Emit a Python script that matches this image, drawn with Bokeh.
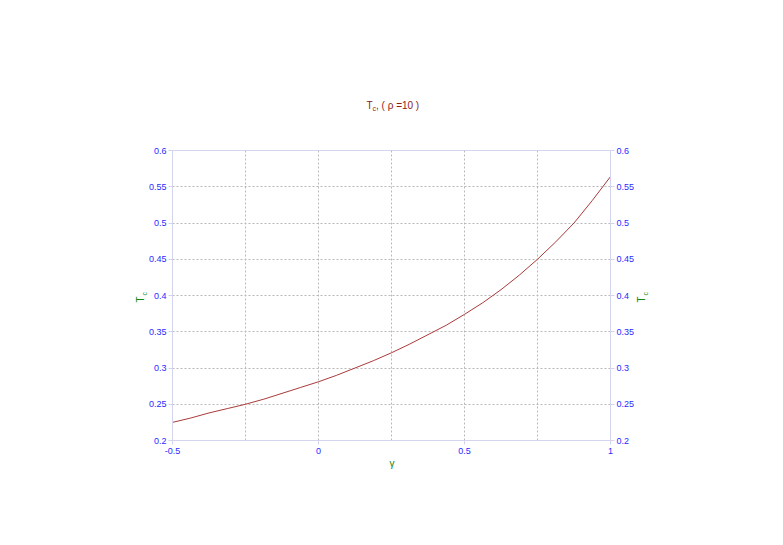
import math
from bokeh.plotting import figure
from bokeh.models import (Range1d, LinearAxis, FixedTicker, CustomJSTickFormatter,
                          Grid, Label)
from bokeh.embed import file_html
from bokeh.resources import INLINE

# ---- data ----
gamma = [-0.5, -0.4375, -0.375, -0.3125, -0.25, -0.1875, -0.125, -0.0625, 0.0,
         0.0625, 0.125, 0.1875, 0.25, 0.3125, 0.375, 0.4375, 0.5,
         0.5625, 0.625, 0.6875, 0.75, 0.8125, 0.875, 0.9375, 1.0]
tc = [0.225, 0.231, 0.238, 0.244, 0.250, 0.257, 0.265, 0.273, 0.281,
      0.290, 0.300, 0.310, 0.321, 0.333, 0.346, 0.359, 0.374,
      0.390, 0.408, 0.428, 0.450, 0.474, 0.500, 0.531, 0.564]

x_tick_labels = [-0.5, 0, 0.5, 1]
x_grid = [-0.25, 0, 0.25, 0.5, 0.75]
y_ticks = [0.2, 0.25, 0.3, 0.35, 0.4, 0.45, 0.5, 0.55, 0.6]
y_grid = [0.25, 0.3, 0.35, 0.4, 0.45, 0.5, 0.55]

title_parts = ["T", "c", ", ( \u03c1 =10 )"]
x_label = "\u03b3"
y_label_parts = ["T", "c"]

FONT = "Liberation Sans"
TICK_COLOR = "#2a2aff"
LABEL_COLOR = "#118811"
TITLE_COLOR = "#8b1c1c"
FRAME_COLOR = "#d4d4ee"
GRID_COLOR = "#b8b8b8"
LINE_COLOR = "#a83a3a"

p = figure(width=775, height=537, output_backend="svg", toolbar_location=None, title=None,
           x_range=Range1d(-0.5, 1.0), y_range=Range1d(0.2, 0.6),
           min_border_left=172, min_border_right=165, min_border_top=150, min_border_bottom=97,
           x_axis_location=None, y_axis_location=None)
# drop the default grids; custom ones are added below
p.center = [r for r in p.center if not isinstance(r, Grid)]
p.outline_line_color = FRAME_COLOR
p.outline_line_width = 1
p.background_fill_color = "white"
p.border_fill_color = "white"

fmt = CustomJSTickFormatter(code="return String(tick);")

def make_axis(ticks, loc):
    ax = LinearAxis(ticker=FixedTicker(ticks=ticks), formatter=fmt)
    ax.axis_line_color = FRAME_COLOR
    ax.major_tick_line_color = FRAME_COLOR
    ax.major_tick_out = 4
    ax.major_tick_in = 0
    ax.minor_tick_line_color = None
    ax.major_label_text_color = TICK_COLOR
    ax.major_label_text_font = FONT
    ax.major_label_text_font_size = "9px"
    ax.major_label_standoff = 2
    p.add_layout(ax, loc)
    return ax

xb = make_axis(x_tick_labels, "below")
xb.major_label_standoff = 3
make_axis(y_ticks, "left")
make_axis(y_ticks, "right")

p.add_layout(Grid(dimension=0, ticker=FixedTicker(ticks=x_grid),
                  grid_line_color=GRID_COLOR, grid_line_dash="2 2", grid_line_width=1))
p.add_layout(Grid(dimension=1, ticker=FixedTicker(ticks=y_grid),
                  grid_line_color=GRID_COLOR, grid_line_dash="2 2", grid_line_width=1))

p.line(gamma, tc, line_color=LINE_COLOR, line_width=1)

def lab(side, text, x, y, size, color, angle=0.0, align="left"):
    p.add_layout(Label(text=text, x=x, y=y, x_units="screen", y_units="screen",
                       text_font=FONT, text_font_size=size, text_color=color,
                       angle=angle, text_align=align, text_baseline="alphabetic"), side)

# title (T, subscript c, rest)
lab("above", title_parts[0], 194, 45, "10px", TITLE_COLOR)
lab("above", title_parts[1], 200, 31.5, "7px", TITLE_COLOR)
lab("above", title_parts[2], 203.5, 27.5, "10px", TITLE_COLOR)

# y-axis labels, rotated
lab("left", y_label_parts[0], 5.5, 138, "10px", LABEL_COLOR, angle=math.pi / 2)
lab("left", y_label_parts[1], 16.5, 145, "7px", LABEL_COLOR, angle=math.pi / 2)
lab("right", y_label_parts[0], 4, 138, "10px", LABEL_COLOR, angle=math.pi / 2)
lab("right", y_label_parts[1], -3, 145, "7px", LABEL_COLOR, angle=math.pi / 2)

# x-axis label
lab("below", x_label, 219.5, 4.5, "10px", LABEL_COLOR, align="center")

open("out.html", "w").write(file_html(p, INLINE))
